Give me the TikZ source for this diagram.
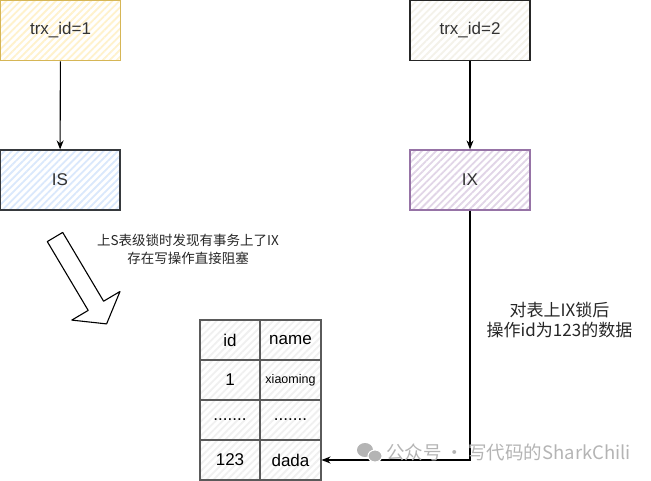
\documentclass[tikz,border=0pt]{standalone}
\usepackage{fontspec}
\setmainfont{Liberation Sans}
\newfontfamily\cjk{Noto Sans CJK SC}
\usetikzlibrary{arrows.meta,patterns.meta}
\definecolor{yelS}{HTML}{D6B656}
\definecolor{yelF}{HTML}{FFF2CC}
\definecolor{bluS}{HTML}{36393D}
\definecolor{bluF}{HTML}{DAE8FC}
\definecolor{purS}{HTML}{9673A6}
\definecolor{purF}{HTML}{E1D5E7}
\definecolor{wtF}{HTML}{F4F2EA}
\definecolor{tblS}{HTML}{5A5A5A}
\definecolor{tblF}{HTML}{F0F0F0}
\definecolor{wmark}{HTML}{B4B4B4}
\tikzset{
  hatchy/.style={preaction={fill=white}, pattern={Lines[angle=45,distance=5pt,line width=1.8pt]}, pattern color=#1},
  box/.style={draw, line width=1.2pt, minimum width=120pt, minimum height=60pt, inner sep=0pt, font=\fontsize{17}{20}\selectfont},
  cell/.style={draw=tblS, line width=1.1pt, minimum height=40pt, inner sep=0pt, hatchy=tblF, font=\fontsize{17}{20}\selectfont},
  arr/.style={-{Stealth[length=9pt,width=7pt,inset=3pt]}, line width=1.1pt},
  note/.style={align=center, inner sep=0pt, text=black!85}
}
\begin{document}
\begin{tikzpicture}[x=1pt,y=-1pt]
\useasboundingbox (0,0) rectangle (651,481);
% boxes
\node[box, draw=yelS, hatchy=yelF, text=black!80] (t1) at (60.5,30.5) {trx\_id=1};
\node[box, draw=bluS, hatchy=bluF, text=black!80] (is) at (60,180) {IS};
\node[box, draw=black!85, hatchy=wtF, text=black!80] (t2) at (470,30.5) {trx\_id=2};
\node[box, draw=purS, hatchy=purF, text=black!80] (ix) at (470,180) {IX};
% table
\node[cell, minimum width=60pt] (c11) at (230,340) {id};
\node[cell, minimum width=61pt] (c12) at (290.5,340) {name};
\node[cell, minimum width=60pt] (c21) at (230,380) {1};
\node[cell, minimum width=61pt, font=\fontsize{12.5}{15}\selectfont] (c22) at (290.5,380) {xiaoming};
\node[cell, minimum width=60pt] (c31) at (230,420) {.......};
\node[cell, minimum width=61pt] (c32) at (290.5,420) {.......};
\node[cell, minimum width=60pt] (c41) at (230,460) {123};
\node[cell, minimum width=61pt] (c42) at (290.5,460) {dada};
% connectors
\draw[arr] (t1) -- (is);
\draw[arr] (t2) -- (ix);
\draw[arr] (ix.south) |- (c42.east);
% block arrow
\draw[line width=1.1pt, fill=white, line join=round]
  (47.3,241.6) -- (88.2,310.4) -- (71.8,320.1) -- (106.6,323.9) -- (120,291.5) -- (103.6,301.2) -- (62.7,232.4) -- cycle;
% labels
\node[note, font=\cjk\fontsize{13.5}{18}\selectfont] (lab1) at (188,249) {上S表级锁时发现有事务上了IX\\存在写操作直接阻塞};
\node[note, font=\cjk\fontsize{17}{20}\selectfont] (lab2) at (559.5,320) {对表上IX锁后\\操作id为123的数据};
% watermark
\fill[wmark] (365,450) ellipse (8pt and 7pt);
\fill[wmark, draw=white, line width=1pt] (375,456) ellipse (7pt and 6pt);
\node[anchor=west, inner sep=0pt, text=wmark, font=\cjk\fontsize{18.5}{20}\selectfont] (wm) at (386,452) {公众号 · 写代码的SharkChili};
\end{tikzpicture}
\end{document}
